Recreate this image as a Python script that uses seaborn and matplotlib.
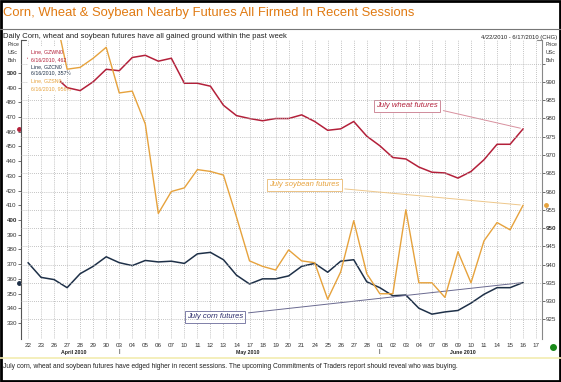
import numpy as np
import pandas as pd
import matplotlib
matplotlib.use("Agg")
import matplotlib.pyplot as plt
import seaborn as sns
from matplotlib.lines import Line2D

# region Datos
dias = ["22", "23", "26", "27", "28", "29", "30",
        "03", "04", "05", "06", "07", "10", "11", "12", "13", "14",
        "17", "18", "19", "20", "21", "24", "25", "26", "27", "28",
        "01", "02", "03", "04", "07", "08", "09", "10", "11",
        "14", "15", "16", "17"]

# trigo julio (eje izquierdo, USc/Bsh)
trigo = [510, 506, 498, 490, 488, 494, 502.5, 501.5, 510.5, 512,
         508, 510, 493, 493, 491, 478, 471, 469, 467.5, 469,
         469, 471.5, 467, 461, 462, 467, 457, 450.5, 442.5, 441.5,
         436, 432.5, 432, 428.5, 433, 441, 451.5, 451.5, 462]

# maiz julio (eje izquierdo)
maiz = [371, 361, 359.5, 354, 363.5, 368.5, 375, 371, 369, 372.5,
        371.5, 372, 370.5, 377, 378, 373, 362.5, 356.5, 360, 360,
        362, 368.5, 370.5, 364.5, 372, 373, 358, 354, 348.5, 349,
        340, 336, 337.5, 338.5, 343.5, 349.5, 354, 354, 357.5]

# soja julio (eje derecho)
soja = [1012, 1011, 1010, 993.5, 994, 996.5, 999.5, 987, 987.5, 978.5,
        954, 960, 961, 966, 965.5, 964.5, 953, 941, 939.5, 938.5,
        944, 941, 940.5, 930.5, 938, 952, 937.5, 932, 932, 955,
        935, 935, 931, 943.5, 935, 946.5, 951.5, 949.5, 956.25]

ticks_izq = list(range(330, 510, 10))
ticks_der = list(range(925, 1000, 5))
meses = ["April 2010", "May 2010", "June 2010"]
# endregion

# region Estilo
sns.set_style("white")
plt.rcParams['font.family'] = ['Liberation Sans', 'DejaVu Sans']

c_trigo = "#B3203A"
c_maiz = "#1E3048"
c_soja = "#E6A23C"
c_titulo = "#E07A12"
W, H = 561, 382


def fx(px):
    return px / W


def fy(py):
    return 1 - py / H
# endregion

# region Figura y ejes
fig = plt.figure(figsize=(W / 100, H / 100), dpi=100)
ax = fig.add_axes([fx(21), fy(339), (542 - 21) / W, (339 - 40) / H])
ax2 = ax.twinx()

df = pd.DataFrame({"dia": range(len(trigo)), "trigo": trigo, "maiz": maiz, "soja": soja})
sns.lineplot(data=df, x="dia", y="trigo", ax=ax, color=c_trigo, lw=1.1)
sns.lineplot(data=df, x="dia", y="maiz", ax=ax, color=c_maiz, lw=1.1)
sns.lineplot(data=df, x="dia", y="soja", ax=ax2, color=c_soja, lw=1.0)

ax.set_xlim(-0.54, 39.45)
ax.set_ylim(319.1, 522.4)
ax2.set_ylim(919.6, 1001.5)

ax.set_xticks(range(len(dias)))
ax.set_xticklabels(dias)
ax.set_yticks(ticks_izq)
ax.set_yticklabels([str(t) for t in ticks_izq])
ax2.set_yticks(ticks_der)
ax2.set_yticklabels([str(t) if t < 995 else "" for t in ticks_der])
for lab in ax.get_yticklabels():
    if lab.get_text() in ("500", "400"):
        lab.set_fontweight("bold")
for lab in ax2.get_yticklabels():
    if lab.get_text() == "950":
        lab.set_fontweight("bold")

for a in (ax, ax2):
    a.set_xlabel("")
    a.set_ylabel("")
    for s in ("top", "bottom"):
        a.spines[s].set_visible(False)
ax.spines["right"].set_visible(False)
ax2.spines["left"].set_visible(False)
ax.spines["left"].set_color("#555555")
ax.spines["left"].set_linewidth(0.8)
ax2.spines["right"].set_color("#888888")
ax2.spines["right"].set_linewidth(0.8)

ax.tick_params(axis="x", labelsize=4.5, length=0, pad=3, colors="#333333")
ax.tick_params(axis="y", labelsize=4.5, length=2, width=0.5, pad=1, colors="#333333")
ax2.tick_params(axis="y", labelsize=4.5, length=2, width=0.5, pad=1, colors="#333333")

ax.grid(axis="x", ls=(0, (1, 1.5)), color="#B0B0B0", lw=0.6)
ax.grid(axis="y", visible=False)
ax2.grid(axis="y", ls=(0, (1, 1.5)), color="#B0B0B0", lw=0.6)
ax2.grid(axis="x", visible=False)

# corchetes arriba de los ejes
ax.plot([-0.54, -0.15], [522.4, 522.4], color="#555555", lw=0.8, clip_on=False)
ax2.plot([39.05, 39.45], [1001.5, 1001.5], color="#888888", lw=0.8, clip_on=False)
# endregion

# region Marcadores de ultimo valor
ax.plot([-0.7], [trigo[-1]], "o", color=c_trigo, ms=2.5, clip_on=False)
ax.plot([-0.7], [maiz[-1]], "o", color=c_maiz, ms=2.5, clip_on=False)
ax2.plot([39.75], [soja[-1]], "o", color=c_soja, ms=2.5, clip_on=False)
# endregion

# region Anotaciones
ax.annotate("July wheat futures", xy=(38, trigo[-1]), xytext=(29.1, 477.6),
            fontsize=5.5, style="italic", color=c_trigo, ha="center", va="center",
            bbox=dict(boxstyle="square,pad=0.3", fc="white", ec="#C8788A", lw=0.6),
            arrowprops=dict(arrowstyle="-", color="#D8909E", lw=0.7, relpos=(1, 0)))
ax2.annotate("July soybean futures", xy=(38, soja[-1]), xytext=(21.2, 961.8),
             fontsize=5.5, style="italic", color=c_soja, ha="center", va="center",
             bbox=dict(boxstyle="square,pad=0.3", fc="white", ec="#E8B870", lw=0.6),
             arrowprops=dict(arrowstyle="-", color="#EEC78A", lw=0.7, relpos=(1, 0)))
ax.annotate("July corn futures", xy=(38, maiz[-1]), xytext=(14.35, 334.1),
            fontsize=5.5, style="italic", color="#2A2A6A", ha="center", va="center",
            bbox=dict(boxstyle="square,pad=0.3", fc="white", ec="#6A6A9A", lw=0.6),
            arrowprops=dict(arrowstyle="-", color="#6A6A90", lw=0.7, relpos=(1, 1)))

# cuadro de leyenda arriba a la izquierda
leyenda = [("Line, GZWN0", c_trigo), ("6/16/2010, 462", c_trigo),
           ("Line, GZCN0", c_maiz), ("6/16/2010, 357\u00bd", c_maiz),
           ("Line, GZSN0", c_soja), ("6/16/2010, 956\u00bc", c_soja)]
fig.patches.append(plt.Rectangle((fx(28), fy(95)), (60 - 28) / W, (95 - 46) / H,
                                 transform=fig.transFigure, fc="white", ec="none", zorder=3))
for k, (txt, col) in enumerate(leyenda):
    fig.text(fx(31), fy(52 + k * 7.3), txt, fontsize=3.8, color=col, va="center", zorder=4)
# endregion

# region Textos de la figura
fig.text(fx(3), fy(13), "Corn, Wheat & Soybean Nearby Futures All Firmed In Recent Sessions",
         fontsize=9.4, color=c_titulo, va="center")
fig.add_artist(Line2D([0, 1], [fy(29), fy(29)], color="#777777", lw=0.8))
fig.text(fx(3), fy(37), "Daily Corn, wheat and soybean futures have all gained ground within the past week",
         fontsize=5.5, color="#222222", va="center")
fig.text(fx(557), fy(37), "4/22/2010 - 6/17/2010 (CHG)", fontsize=4.2, color="#222222",
         va="center", ha="right")
for k, t in enumerate(["Price", "USc", "Bsh"]):
    fig.text(fx(8), fy(45 + k * 7.5), t, fontsize=3.8, color="#333333", va="center")
    fig.text(fx(546), fy(45 + k * 7.5), t, fontsize=3.8, color="#333333", va="center")

for t, px in zip(meses, [74, 248, 463]):
    fig.text(fx(px), fy(352.5), t, fontsize=3.8, fontweight="bold", color="#222222",
             ha="center", va="center")
for idx in (7, 27):
    fig.text(fx(28 + 13.03 * idx), fy(352), "|", fontsize=4.5, color="#222222",
             ha="center", va="center")
fig.add_artist(Line2D([fx(553)], [fy(347)], marker="o", ms=4, color="#1A8A1A", lw=0))

fig.add_artist(Line2D([0, 1], [fy(358), fy(358)], color="#F2ECB0", lw=1.2))
fig.text(fx(3), fy(366), "July corn, wheat and soybean futures have edged higher in recent sessions. "
         "The upcoming Commitments of Traders report should reveal who was buying.",
         fontsize=4.8, color="#222222", va="center")
fig.patches.append(plt.Rectangle((0.001, 0.002), 0.997, 0.995, transform=fig.transFigure,
                                 fill=False, ec="black", lw=2))
# endregion

fig.savefig("out.png", dpi=100)
